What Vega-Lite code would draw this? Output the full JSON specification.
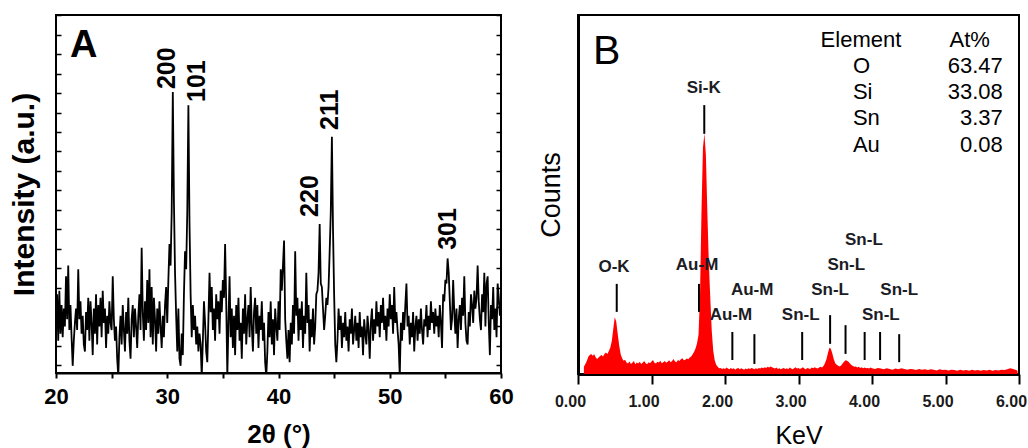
{
  "$schema": "https://vega.github.io/schema/vega-lite/v6.json",
  "padding": {"left": 8, "top": 13, "right": 0, "bottom": 0},
  "background": "white",
  "bounds": "flush",
  "spacing": 77,
  "config": {"font": "Liberation Sans", "view": {"stroke": "black", "strokeWidth": 2}},
  "datasets": {
    "xrd": [
      {"theta":20.0,"intensity":16},{"theta":20.1,"intensity":22},{"theta":20.2,"intensity":9},{"theta":20.3,"intensity":23},{"theta":20.4,"intensity":11},{"theta":20.5,"intensity":19},{"theta":20.6,"intensity":10},{"theta":20.7,"intensity":18},{"theta":20.8,"intensity":13},{"theta":20.9,"intensity":27},
      {"theta":21.0,"intensity":15},{"theta":21.1,"intensity":30},{"theta":21.2,"intensity":12},{"theta":21.3,"intensity":19},{"theta":21.4,"intensity":10},{"theta":21.5,"intensity":2},{"theta":21.6,"intensity":9},{"theta":21.7,"intensity":14},{"theta":21.8,"intensity":18},{"theta":21.9,"intensity":12},
      {"theta":22.0,"intensity":29},{"theta":22.1,"intensity":15},{"theta":22.2,"intensity":20},{"theta":22.3,"intensity":11},{"theta":22.4,"intensity":16},{"theta":22.5,"intensity":8},{"theta":22.6,"intensity":6},{"theta":22.7,"intensity":17},{"theta":22.8,"intensity":12},{"theta":22.9,"intensity":21},
      {"theta":23.0,"intensity":9},{"theta":23.1,"intensity":20},{"theta":23.2,"intensity":14},{"theta":23.3,"intensity":5},{"theta":23.4,"intensity":18},{"theta":23.5,"intensity":11},{"theta":23.6,"intensity":22},{"theta":23.7,"intensity":8},{"theta":23.8,"intensity":19},{"theta":23.9,"intensity":13},
      {"theta":24.0,"intensity":21},{"theta":24.1,"intensity":10},{"theta":24.2,"intensity":23},{"theta":24.3,"intensity":14},{"theta":24.4,"intensity":18},{"theta":24.5,"intensity":7},{"theta":24.6,"intensity":16},{"theta":24.7,"intensity":11},{"theta":24.8,"intensity":20},{"theta":24.9,"intensity":14},
      {"theta":25.0,"intensity":12},{"theta":25.1,"intensity":27},{"theta":25.2,"intensity":15},{"theta":25.3,"intensity":9},{"theta":25.4,"intensity":13},{"theta":25.5,"intensity":4},{"theta":25.6,"intensity":-1},{"theta":25.7,"intensity":10},{"theta":25.8,"intensity":16},{"theta":25.9,"intensity":8},
      {"theta":26.0,"intensity":19},{"theta":26.1,"intensity":12},{"theta":26.2,"intensity":6},{"theta":26.3,"intensity":17},{"theta":26.4,"intensity":11},{"theta":26.5,"intensity":21},{"theta":26.6,"intensity":9},{"theta":26.7,"intensity":4},{"theta":26.8,"intensity":15},{"theta":26.9,"intensity":19},
      {"theta":27.0,"intensity":10},{"theta":27.1,"intensity":18},{"theta":27.2,"intensity":13},{"theta":27.3,"intensity":7},{"theta":27.4,"intensity":16},{"theta":27.5,"intensity":22},{"theta":27.6,"intensity":12},{"theta":27.7,"intensity":35},{"theta":27.8,"intensity":17},{"theta":27.9,"intensity":9},
      {"theta":28.0,"intensity":20},{"theta":28.1,"intensity":12},{"theta":28.2,"intensity":26},{"theta":28.3,"intensity":14},{"theta":28.4,"intensity":29},{"theta":28.5,"intensity":10},{"theta":28.6,"intensity":24},{"theta":28.7,"intensity":8},{"theta":28.8,"intensity":21},{"theta":28.9,"intensity":15},
      {"theta":29.0,"intensity":6},{"theta":29.1,"intensity":18},{"theta":29.2,"intensity":11},{"theta":29.3,"intensity":20},{"theta":29.4,"intensity":13},{"theta":29.5,"intensity":7},{"theta":29.6,"intensity":16},{"theta":29.7,"intensity":10},{"theta":29.8,"intensity":19},{"theta":29.9,"intensity":24},
      {"theta":30.0,"intensity":14},{"theta":30.1,"intensity":26},{"theta":30.2,"intensity":36},{"theta":30.3,"intensity":30},{"theta":30.4,"intensity":45},{"theta":30.5,"intensity":78.5},{"theta":30.6,"intensity":48},{"theta":30.7,"intensity":28},{"theta":30.8,"intensity":16},{"theta":30.9,"intensity":6},
      {"theta":31.0,"intensity":18},{"theta":31.1,"intensity":4},{"theta":31.2,"intensity":2},{"theta":31.3,"intensity":11},{"theta":31.4,"intensity":5},{"theta":31.5,"intensity":22},{"theta":31.6,"intensity":34},{"theta":31.7,"intensity":29},{"theta":31.8,"intensity":45},{"theta":31.9,"intensity":74.8},
      {"theta":32.0,"intensity":42},{"theta":32.1,"intensity":22},{"theta":32.2,"intensity":10},{"theta":32.3,"intensity":19},{"theta":32.4,"intensity":12},{"theta":32.5,"intensity":16},{"theta":32.6,"intensity":8},{"theta":32.7,"intensity":13},{"theta":32.8,"intensity":6},{"theta":32.9,"intensity":11},
      {"theta":33.0,"intensity":8},{"theta":33.1,"intensity":-1},{"theta":33.2,"intensity":9},{"theta":33.3,"intensity":20},{"theta":33.4,"intensity":14},{"theta":33.5,"intensity":6},{"theta":33.6,"intensity":3},{"theta":33.7,"intensity":15},{"theta":33.8,"intensity":28},{"theta":33.9,"intensity":17},
      {"theta":34.0,"intensity":24},{"theta":34.1,"intensity":12},{"theta":34.2,"intensity":18},{"theta":34.3,"intensity":9},{"theta":34.4,"intensity":22},{"theta":34.5,"intensity":15},{"theta":34.6,"intensity":20},{"theta":34.7,"intensity":11},{"theta":34.8,"intensity":23},{"theta":34.9,"intensity":17},
      {"theta":35.0,"intensity":26},{"theta":35.1,"intensity":21},{"theta":35.2,"intensity":36},{"theta":35.3,"intensity":20},{"theta":35.4,"intensity":-1},{"theta":35.5,"intensity":14},{"theta":35.6,"intensity":27},{"theta":35.7,"intensity":10},{"theta":35.8,"intensity":18},{"theta":35.9,"intensity":7},
      {"theta":36.0,"intensity":16},{"theta":36.1,"intensity":5},{"theta":36.2,"intensity":19},{"theta":36.3,"intensity":12},{"theta":36.4,"intensity":21},{"theta":36.5,"intensity":9},{"theta":36.6,"intensity":14},{"theta":36.7,"intensity":4},{"theta":36.8,"intensity":18},{"theta":36.9,"intensity":11},
      {"theta":37.0,"intensity":22},{"theta":37.1,"intensity":8},{"theta":37.2,"intensity":15},{"theta":37.3,"intensity":19},{"theta":37.4,"intensity":10},{"theta":37.5,"intensity":24},{"theta":37.6,"intensity":13},{"theta":37.7,"intensity":6},{"theta":37.8,"intensity":17},{"theta":37.9,"intensity":21},
      {"theta":38.0,"intensity":11},{"theta":38.1,"intensity":19},{"theta":38.2,"intensity":7},{"theta":38.3,"intensity":16},{"theta":38.4,"intensity":12},{"theta":38.5,"intensity":20},{"theta":38.6,"intensity":9},{"theta":38.7,"intensity":14},{"theta":38.8,"intensity":3},{"theta":38.9,"intensity":-1},
      {"theta":39.0,"intensity":6},{"theta":39.1,"intensity":17},{"theta":39.2,"intensity":10},{"theta":39.3,"intensity":20},{"theta":39.4,"intensity":8},{"theta":39.5,"intensity":15},{"theta":39.6,"intensity":5},{"theta":39.7,"intensity":18},{"theta":39.8,"intensity":13},{"theta":39.9,"intensity":9},
      {"theta":40.0,"intensity":20},{"theta":40.1,"intensity":12},{"theta":40.2,"intensity":29},{"theta":40.3,"intensity":23},{"theta":40.4,"intensity":30},{"theta":40.5,"intensity":37},{"theta":40.6,"intensity":15},{"theta":40.7,"intensity":9},{"theta":40.8,"intensity":4},{"theta":40.9,"intensity":12},
      {"theta":41.0,"intensity":3},{"theta":41.1,"intensity":14},{"theta":41.2,"intensity":8},{"theta":41.3,"intensity":19},{"theta":41.4,"intensity":11},{"theta":41.5,"intensity":34},{"theta":41.6,"intensity":16},{"theta":41.7,"intensity":21},{"theta":41.8,"intensity":9},{"theta":41.9,"intensity":18},
      {"theta":42.0,"intensity":12},{"theta":42.1,"intensity":20},{"theta":42.2,"intensity":7},{"theta":42.3,"intensity":16},{"theta":42.4,"intensity":11},{"theta":42.5,"intensity":28},{"theta":42.6,"intensity":14},{"theta":42.7,"intensity":19},{"theta":42.8,"intensity":6},{"theta":42.9,"intensity":15},
      {"theta":43.0,"intensity":10},{"theta":43.1,"intensity":18},{"theta":43.2,"intensity":8},{"theta":43.3,"intensity":13},{"theta":43.4,"intensity":22},{"theta":43.5,"intensity":23},{"theta":43.6,"intensity":28},{"theta":43.7,"intensity":41.6},{"theta":43.8,"intensity":25},{"theta":43.9,"intensity":24},
      {"theta":44.0,"intensity":18},{"theta":44.1,"intensity":12},{"theta":44.2,"intensity":16},{"theta":44.3,"intensity":21},{"theta":44.4,"intensity":19},{"theta":44.5,"intensity":24},{"theta":44.6,"intensity":34},{"theta":44.7,"intensity":45},{"theta":44.8,"intensity":66},{"theta":44.9,"intensity":40},
      {"theta":45.0,"intensity":22},{"theta":45.1,"intensity":8},{"theta":45.2,"intensity":3},{"theta":45.3,"intensity":9},{"theta":45.4,"intensity":18},{"theta":45.5,"intensity":12},{"theta":45.6,"intensity":16},{"theta":45.7,"intensity":7},{"theta":45.8,"intensity":14},{"theta":45.9,"intensity":10},
      {"theta":46.0,"intensity":17},{"theta":46.1,"intensity":9},{"theta":46.2,"intensity":13},{"theta":46.3,"intensity":6},{"theta":46.4,"intensity":15},{"theta":46.5,"intensity":11},{"theta":46.6,"intensity":18},{"theta":46.7,"intensity":8},{"theta":46.8,"intensity":12},{"theta":46.9,"intensity":16},
      {"theta":47.0,"intensity":9},{"theta":47.1,"intensity":14},{"theta":47.2,"intensity":7},{"theta":47.3,"intensity":17},{"theta":47.4,"intensity":10},{"theta":47.5,"intensity":13},{"theta":47.6,"intensity":5},{"theta":47.7,"intensity":15},{"theta":47.8,"intensity":11},{"theta":47.9,"intensity":8},
      {"theta":48.0,"intensity":16},{"theta":48.1,"intensity":12},{"theta":48.2,"intensity":4},{"theta":48.3,"intensity":14},{"theta":48.4,"intensity":18},{"theta":48.5,"intensity":9},{"theta":48.6,"intensity":15},{"theta":48.7,"intensity":11},{"theta":48.8,"intensity":20},{"theta":48.9,"intensity":13},
      {"theta":49.0,"intensity":17},{"theta":49.1,"intensity":10},{"theta":49.2,"intensity":19},{"theta":49.3,"intensity":14},{"theta":49.4,"intensity":21},{"theta":49.5,"intensity":12},{"theta":49.6,"intensity":16},{"theta":49.7,"intensity":9},{"theta":49.8,"intensity":18},{"theta":49.9,"intensity":13},
      {"theta":50.0,"intensity":22},{"theta":50.1,"intensity":15},{"theta":50.2,"intensity":19},{"theta":50.3,"intensity":11},{"theta":50.4,"intensity":24},{"theta":50.5,"intensity":14},{"theta":50.6,"intensity":17},{"theta":50.7,"intensity":12},{"theta":50.8,"intensity":8},{"theta":50.9,"intensity":-1},
      {"theta":51.0,"intensity":14},{"theta":51.1,"intensity":9},{"theta":51.2,"intensity":17},{"theta":51.3,"intensity":12},{"theta":51.4,"intensity":19},{"theta":51.5,"intensity":25},{"theta":51.6,"intensity":13},{"theta":51.7,"intensity":16},{"theta":51.8,"intensity":8},{"theta":51.9,"intensity":14},
      {"theta":52.0,"intensity":10},{"theta":52.1,"intensity":17},{"theta":52.2,"intensity":6},{"theta":52.3,"intensity":13},{"theta":52.4,"intensity":16},{"theta":52.5,"intensity":9},{"theta":52.6,"intensity":15},{"theta":52.7,"intensity":11},{"theta":52.8,"intensity":18},{"theta":52.9,"intensity":12},
      {"theta":53.0,"intensity":8},{"theta":53.1,"intensity":15},{"theta":53.2,"intensity":13},{"theta":53.3,"intensity":19},{"theta":53.4,"intensity":10},{"theta":53.5,"intensity":16},{"theta":53.6,"intensity":12},{"theta":53.7,"intensity":20},{"theta":53.8,"intensity":14},{"theta":53.9,"intensity":17},
      {"theta":54.0,"intensity":11},{"theta":54.1,"intensity":18},{"theta":54.2,"intensity":13},{"theta":54.3,"intensity":16},{"theta":54.4,"intensity":10},{"theta":54.5,"intensity":19},{"theta":54.6,"intensity":14},{"theta":54.7,"intensity":7},{"theta":54.8,"intensity":22},{"theta":54.9,"intensity":20},
      {"theta":55.0,"intensity":26},{"theta":55.1,"intensity":25},{"theta":55.2,"intensity":32},{"theta":55.3,"intensity":28},{"theta":55.4,"intensity":20},{"theta":55.5,"intensity":12},{"theta":55.6,"intensity":15},{"theta":55.7,"intensity":26},{"theta":55.8,"intensity":17},{"theta":55.9,"intensity":11},
      {"theta":56.0,"intensity":18},{"theta":56.1,"intensity":7},{"theta":56.2,"intensity":15},{"theta":56.3,"intensity":19},{"theta":56.4,"intensity":12},{"theta":56.5,"intensity":21},{"theta":56.6,"intensity":16},{"theta":56.7,"intensity":27},{"theta":56.8,"intensity":14},{"theta":56.9,"intensity":9},
      {"theta":57.0,"intensity":8},{"theta":57.1,"intensity":17},{"theta":57.2,"intensity":13},{"theta":57.3,"intensity":22},{"theta":57.4,"intensity":19},{"theta":57.5,"intensity":14},{"theta":57.6,"intensity":23},{"theta":57.7,"intensity":18},{"theta":57.8,"intensity":21},{"theta":57.9,"intensity":30},
      {"theta":58.0,"intensity":20},{"theta":58.1,"intensity":15},{"theta":58.2,"intensity":12},{"theta":58.3,"intensity":22},{"theta":58.4,"intensity":17},{"theta":58.5,"intensity":28},{"theta":58.6,"intensity":13},{"theta":58.7,"intensity":25},{"theta":58.8,"intensity":27},{"theta":58.9,"intensity":14},
      {"theta":59.0,"intensity":5},{"theta":59.1,"intensity":19},{"theta":59.2,"intensity":15},{"theta":59.3,"intensity":24},{"theta":59.4,"intensity":12},{"theta":59.5,"intensity":18},{"theta":59.6,"intensity":10},{"theta":59.7,"intensity":25},{"theta":59.8,"intensity":21},{"theta":59.9,"intensity":16},
      {"theta":60.0,"intensity":20}
    ],
    "xrdLabels": [
      {"label":"200","theta":30.02,"intensity":79.3},
      {"label":"101","theta":32.63,"intensity":75.7},
      {"label":"220","theta":42.83,"intensity":43.6},
      {"label":"211","theta":44.63,"intensity":67.9},
      {"label":"301","theta":55.24,"intensity":34.4}
    ],
    "eds": [
      {"kev":0.08,"counts":2.0},{"kev":0.10,"counts":2.8},{"kev":0.12,"counts":3.6},{"kev":0.14,"counts":4.8},{"kev":0.16,"counts":5.3},{"kev":0.18,"counts":5.6},{"kev":0.20,"counts":5.1},{"kev":0.22,"counts":5.5},{"kev":0.24,"counts":4.7},{"kev":0.26,"counts":4.2},
      {"kev":0.28,"counts":4.6},{"kev":0.30,"counts":5.0},{"kev":0.32,"counts":5.3},{"kev":0.34,"counts":4.9},{"kev":0.36,"counts":5.6},{"kev":0.38,"counts":6.0},{"kev":0.40,"counts":5.6},{"kev":0.42,"counts":6.4},{"kev":0.44,"counts":7.4},{"kev":0.46,"counts":9.2},
      {"kev":0.48,"counts":12.6},{"kev":0.50,"counts":15.8},{"kev":0.52,"counts":14.6},{"kev":0.54,"counts":11.2},{"kev":0.56,"counts":8.0},{"kev":0.58,"counts":5.6},{"kev":0.60,"counts":4.4},{"kev":0.62,"counts":3.7},{"kev":0.64,"counts":4.0},{"kev":0.66,"counts":3.2},
      {"kev":0.68,"counts":2.9},{"kev":0.70,"counts":3.5},{"kev":0.72,"counts":2.8},{"kev":0.74,"counts":3.1},{"kev":0.76,"counts":3.6},{"kev":0.78,"counts":2.7},{"kev":0.80,"counts":3.2},{"kev":0.82,"counts":2.9},{"kev":0.84,"counts":3.4},{"kev":0.86,"counts":2.8},
      {"kev":0.88,"counts":3.1},{"kev":0.90,"counts":3.6},{"kev":0.92,"counts":3.0},{"kev":0.94,"counts":2.7},{"kev":0.96,"counts":3.3},{"kev":0.98,"counts":3.0},{"kev":1.00,"counts":3.5},{"kev":1.02,"counts":3.9},{"kev":1.04,"counts":3.1},{"kev":1.06,"counts":2.9},
      {"kev":1.08,"counts":3.4},{"kev":1.10,"counts":3.2},{"kev":1.12,"counts":3.7},{"kev":1.14,"counts":3.0},{"kev":1.16,"counts":3.3},{"kev":1.18,"counts":3.6},{"kev":1.20,"counts":3.1},{"kev":1.22,"counts":3.4},{"kev":1.24,"counts":3.8},{"kev":1.26,"counts":3.3},
      {"kev":1.28,"counts":3.6},{"kev":1.30,"counts":4.2},{"kev":1.32,"counts":3.5},{"kev":1.34,"counts":3.3},{"kev":1.36,"counts":3.9},{"kev":1.38,"counts":3.6},{"kev":1.40,"counts":4.1},{"kev":1.42,"counts":4.4},{"kev":1.44,"counts":3.8},{"kev":1.46,"counts":4.0},
      {"kev":1.48,"counts":4.3},{"kev":1.50,"counts":4.1},{"kev":1.52,"counts":4.6},{"kev":1.54,"counts":4.9},{"kev":1.56,"counts":5.5},{"kev":1.58,"counts":6.2},{"kev":1.60,"counts":7.2},{"kev":1.62,"counts":8.6},{"kev":1.64,"counts":11},{"kev":1.66,"counts":22},
      {"kev":1.68,"counts":45},{"kev":1.70,"counts":63},{"kev":1.72,"counts":67},{"kev":1.74,"counts":61},{"kev":1.76,"counts":45},{"kev":1.78,"counts":31},{"kev":1.80,"counts":21},{"kev":1.82,"counts":12},{"kev":1.84,"counts":6.5},{"kev":1.86,"counts":3.8},
      {"kev":1.88,"counts":2.6},{"kev":1.90,"counts":2.0},{"kev":1.92,"counts":1.6},{"kev":1.94,"counts":1.7},{"kev":1.96,"counts":1.4},{"kev":1.98,"counts":1.6},{"kev":2.00,"counts":1.4},{"kev":2.02,"counts":1.8},{"kev":2.04,"counts":1.5},{"kev":2.06,"counts":1.3},
      {"kev":2.08,"counts":1.7},{"kev":2.10,"counts":1.4},{"kev":2.12,"counts":1.6},{"kev":2.14,"counts":1.2},{"kev":2.16,"counts":1.5},{"kev":2.18,"counts":1.7},{"kev":2.20,"counts":1.3},{"kev":2.22,"counts":1.6},{"kev":2.24,"counts":1.4},{"kev":2.26,"counts":1.2},
      {"kev":2.28,"counts":1.5},{"kev":2.30,"counts":1.3},{"kev":2.32,"counts":1.6},{"kev":2.34,"counts":1.4},{"kev":2.36,"counts":1.7},{"kev":2.38,"counts":1.5},{"kev":2.40,"counts":1.3},{"kev":2.42,"counts":1.6},{"kev":2.44,"counts":1.4},{"kev":2.46,"counts":1.7},
      {"kev":2.48,"counts":1.5},{"kev":2.50,"counts":1.8},{"kev":2.52,"counts":1.6},{"kev":2.54,"counts":1.9},{"kev":2.56,"counts":1.7},{"kev":2.58,"counts":2.0},{"kev":2.60,"counts":1.8},{"kev":2.62,"counts":2.1},{"kev":2.64,"counts":1.9},{"kev":2.66,"counts":1.7},
      {"kev":2.68,"counts":1.5},{"kev":2.70,"counts":1.8},{"kev":2.72,"counts":1.4},{"kev":2.74,"counts":1.6},{"kev":2.76,"counts":1.3},{"kev":2.78,"counts":1.5},{"kev":2.80,"counts":1.7},{"kev":2.82,"counts":1.4},{"kev":2.84,"counts":1.6},{"kev":2.86,"counts":1.3},
      {"kev":2.88,"counts":1.8},{"kev":2.90,"counts":1.5},{"kev":2.92,"counts":1.3},{"kev":2.94,"counts":1.6},{"kev":2.96,"counts":1.9},{"kev":2.98,"counts":1.5},{"kev":3.00,"counts":1.7},{"kev":3.02,"counts":1.4},{"kev":3.04,"counts":1.6},{"kev":3.06,"counts":1.9},
      {"kev":3.08,"counts":1.5},{"kev":3.10,"counts":1.3},{"kev":3.12,"counts":1.7},{"kev":3.14,"counts":1.5},{"kev":3.16,"counts":1.4},{"kev":3.18,"counts":1.8},{"kev":3.20,"counts":1.6},{"kev":3.22,"counts":1.9},{"kev":3.24,"counts":1.7},{"kev":3.26,"counts":1.5},
      {"kev":3.28,"counts":1.8},{"kev":3.30,"counts":2.0},{"kev":3.32,"counts":1.8},{"kev":3.34,"counts":2.2},{"kev":3.36,"counts":3.0},{"kev":3.38,"counts":4.1},{"kev":3.40,"counts":5.8},{"kev":3.42,"counts":7.3},{"kev":3.44,"counts":7.0},{"kev":3.46,"counts":5.7},
      {"kev":3.48,"counts":4.1},{"kev":3.50,"counts":3.0},{"kev":3.52,"counts":2.6},{"kev":3.54,"counts":2.3},{"kev":3.56,"counts":2.1},{"kev":3.58,"counts":2.4},{"kev":3.60,"counts":2.9},{"kev":3.62,"counts":3.4},{"kev":3.64,"counts":3.8},{"kev":3.66,"counts":3.7},
      {"kev":3.68,"counts":3.4},{"kev":3.70,"counts":2.9},{"kev":3.72,"counts":2.5},{"kev":3.74,"counts":2.2},{"kev":3.76,"counts":2.0},{"kev":3.78,"counts":2.1},{"kev":3.80,"counts":1.8},{"kev":3.82,"counts":2.0},{"kev":3.84,"counts":1.7},{"kev":3.86,"counts":1.9},
      {"kev":3.88,"counts":1.6},{"kev":3.90,"counts":1.8},{"kev":3.92,"counts":1.6},{"kev":3.94,"counts":1.7},{"kev":3.96,"counts":1.5},{"kev":3.98,"counts":1.8},{"kev":4.00,"counts":1.6},{"kev":4.04,"counts":1.4},{"kev":4.08,"counts":1.7},{"kev":4.12,"counts":1.5},
      {"kev":4.16,"counts":1.3},{"kev":4.20,"counts":1.6},{"kev":4.24,"counts":1.4},{"kev":4.28,"counts":1.2},{"kev":4.32,"counts":1.5},{"kev":4.36,"counts":1.3},{"kev":4.40,"counts":1.6},{"kev":4.44,"counts":1.4},{"kev":4.48,"counts":1.2},{"kev":4.52,"counts":1.4},
      {"kev":4.56,"counts":1.3},{"kev":4.60,"counts":1.1},{"kev":4.64,"counts":1.4},{"kev":4.68,"counts":1.2},{"kev":4.72,"counts":1.3},{"kev":4.76,"counts":1.1},{"kev":4.80,"counts":1.3},{"kev":4.84,"counts":1.2},{"kev":4.88,"counts":1.0},{"kev":4.92,"counts":1.3},
      {"kev":4.96,"counts":1.1},{"kev":5.00,"counts":1.2},{"kev":5.04,"counts":1.0},{"kev":5.08,"counts":1.2},{"kev":5.12,"counts":1.1},{"kev":5.16,"counts":0.9},{"kev":5.20,"counts":1.2},{"kev":5.24,"counts":1.0},{"kev":5.28,"counts":1.1},{"kev":5.32,"counts":0.9},
      {"kev":5.36,"counts":1.2},{"kev":5.40,"counts":1.0},{"kev":5.44,"counts":1.1},{"kev":5.48,"counts":0.9},{"kev":5.52,"counts":1.1},{"kev":5.56,"counts":1.0},{"kev":5.60,"counts":1.2},{"kev":5.64,"counts":0.9},{"kev":5.68,"counts":1.1},{"kev":5.72,"counts":1.0},
      {"kev":5.76,"counts":1.2},{"kev":5.80,"counts":1.1},{"kev":5.84,"counts":1.3},{"kev":5.88,"counts":1.6},{"kev":5.92,"counts":1.4},{"kev":5.96,"counts":1.1},{"kev":5.98,"counts":0.9}
    ],
    "edsLines": [
      {"kev":0.527,"low":17.3,"high":25.1},
      {"kev":1.718,"low":66.9,"high":74.9},
      {"kev":1.646,"low":17.3,"high":25.1},
      {"kev":2.10,"low":3.9,"high":11.7},
      {"kev":2.40,"low":2.8,"high":11.1},
      {"kev":3.05,"low":3.9,"high":11.7},
      {"kev":3.43,"low":8.4,"high":16.4},
      {"kev":3.64,"low":5.6,"high":13.6},
      {"kev":3.90,"low":3.9,"high":11.7},
      {"kev":4.11,"low":3.9,"high":11.7},
      {"kev":4.37,"low":3.3,"high":11.1}
    ],
    "edsLabels": [
      {"label":"Si-K","kev":1.71,"counts":78.3},
      {"label":"O-K","kev":0.49,"counts":28.4},
      {"label":"Au-M","kev":1.62,"counts":29.0},
      {"label":"Au-M","kev":2.37,"counts":22.0},
      {"label":"Au-M","kev":2.08,"counts":15.0},
      {"label":"Sn-L","kev":3.03,"counts":15.0},
      {"label":"Sn-L","kev":3.43,"counts":22.0},
      {"label":"Sn-L","kev":3.65,"counts":29.0},
      {"label":"Sn-L","kev":3.89,"counts":35.9},
      {"label":"Sn-L","kev":4.37,"counts":22.0},
      {"label":"Sn-L","kev":4.12,"counts":15.0}
    ],
    "composition": [
      {"element":"O","atPct":"63.47","counts":83.8},
      {"element":"Si","atPct":"33.08","counts":76.6},
      {"element":"Sn","atPct":"3.37","counts":69.4},
      {"element":"Au","atPct":"0.08","counts":61.8}
    ]
  },
  "hconcat": [
    {
      "width": 445,
      "height": 358,
      "layer": [
        {
          "data": {"name": "xrd"},
          "mark": {"type": "line", "color": "black", "strokeWidth": 1.8, "clip": true},
          "encoding": {
            "x": {
              "field": "theta", "type": "quantitative",
              "scale": {"domain": [20, 60], "nice": false},
              "axis": {
                "title": "2θ (°)", "titleFontSize": 26, "titleFontWeight": "bold", "titleColor": "black", "titlePadding": 14,
                "values": [20, 25, 30, 35, 40, 45, 50, 55, 60], "format": "d",
                "labelExpr": "datum.value % 10 === 0 ? datum.label : ''",
                "labelFontSize": 22, "labelFontWeight": "bold", "labelColor": "black", "labelPadding": 8,
                "labelFlush": false, "labelOverlap": false,
                "tickSize": 5, "tickWidth": 2, "tickColor": "black",
                "domainColor": "black", "domainWidth": 2, "grid": false
              }
            },
            "y": {
              "field": "intensity", "type": "quantitative",
              "scale": {"domain": [0, 100], "nice": false},
              "axis": {
                "orient": "left", "title": "Intensity (a.u.)", "titleFontSize": 30, "titleFontWeight": "bold", "titleColor": "black", "titlePadding": 16,
                "labels": false, "tickSize": -5, "tickWidth": 1.5, "tickColor": "black", "domain": false, "grid": false,
                "values": [2.15, 7.58, 13.01, 18.44, 23.87, 29.3, 34.73, 40.16, 45.59, 51.02, 56.45, 61.88, 67.31, 72.74, 78.17, 83.6, 89.03, 94.46, 99.89]
              }
            }
          }
        },
        {
          "data": {"name": "xrdLabels"},
          "mark": {"type": "text", "angle": 270, "align": "left", "baseline": "middle", "fontSize": 25, "fontWeight": "bold", "color": "black"},
          "encoding": {
            "x": {"field": "theta", "type": "quantitative"},
            "y": {
              "field": "intensity", "type": "quantitative",
              "axis": {
                "orient": "right", "title": null, "labels": false, "tickSize": -5, "tickWidth": 1.5, "tickColor": "black", "domain": false, "grid": false,
                "values": [2.15, 7.58, 13.01, 18.44, 23.87, 29.3, 34.73, 40.16, 45.59, 51.02, 56.45, 61.88, 67.31, 72.74, 78.17, 83.6, 89.03, 94.46, 99.89]
              }
            },
            "text": {"field": "label", "type": "nominal"}
          }
        },
        {
          "data": {"values": [{"panel": "A", "theta": 21.26, "intensity": 88.3}]},
          "mark": {"type": "text", "align": "left", "baseline": "alphabetic", "fontSize": 38, "fontWeight": "bold", "color": "black"},
          "encoding": {
            "x": {"field": "theta", "type": "quantitative"},
            "y": {"field": "intensity", "type": "quantitative", "axis": null},
            "text": {"field": "panel", "type": "nominal"}
          }
        }
      ],
      "resolve": {"axis": {"y": "independent"}}
    },
    {
      "width": 441,
      "height": 359,
      "layer": [
        {
          "data": {"name": "eds"},
          "mark": {"type": "area", "color": "#ff0000", "opacity": 1},
          "encoding": {
            "x": {
              "field": "kev", "type": "quantitative",
              "scale": {"domain": [0, 6], "nice": false},
              "axis": {
                "title": "KeV", "titleFontSize": 25, "titleFontWeight": "normal", "titleColor": "black", "titlePadding": 14,
                "values": [0, 1, 2, 3, 4, 5, 6], "format": ".2f",
                "labelFontSize": 16, "labelFontWeight": "bold", "labelColor": "#1a1a1a", "labelPadding": 9, "labelOffset": -8,
                "labelFlush": false, "labelOverlap": false,
                "tickSize": 10, "tickWidth": 2, "tickColor": "black",
                "domainColor": "black", "domainWidth": 3, "grid": false
              }
            },
            "y": {
              "field": "counts", "type": "quantitative", "stack": null,
              "scale": {"domain": [0, 100], "nice": false},
              "axis": {
                "title": "Counts", "titleFontSize": 27, "titleFontWeight": "normal", "titleColor": "black", "titlePadding": 13,
                "labels": false, "ticks": false, "domainColor": "black", "domainWidth": 3, "grid": false
              }
            }
          }
        },
        {
          "data": {"name": "edsLines"},
          "mark": {"type": "rule", "color": "black", "strokeWidth": 2},
          "encoding": {
            "x": {"field": "kev", "type": "quantitative"},
            "y": {"field": "low", "type": "quantitative"},
            "y2": {"field": "high"}
          }
        },
        {
          "data": {"name": "edsLabels"},
          "mark": {"type": "text", "align": "center", "baseline": "alphabetic", "fontSize": 17, "fontWeight": "bold", "color": "#1c1c24"},
          "encoding": {
            "x": {"field": "kev", "type": "quantitative"},
            "y": {"field": "counts", "type": "quantitative"},
            "text": {"field": "label", "type": "nominal"}
          }
        },
        {
          "data": {"values": [{"head": "Element", "kev": 3.85, "counts": 91.1}, {"head": "At%", "kev": 5.33, "counts": 91.1}]},
          "mark": {"type": "text", "align": "center", "baseline": "alphabetic", "fontSize": 22, "color": "black"},
          "encoding": {
            "x": {"field": "kev", "type": "quantitative"},
            "y": {"field": "counts", "type": "quantitative"},
            "text": {"field": "head", "type": "nominal"}
          }
        },
        {
          "data": {"name": "composition"},
          "mark": {"type": "text", "align": "left", "baseline": "alphabetic", "fontSize": 22, "color": "black"},
          "encoding": {
            "x": {"datum": 3.74, "type": "quantitative"},
            "y": {"field": "counts", "type": "quantitative"},
            "text": {"field": "element", "type": "nominal"}
          }
        },
        {
          "data": {"name": "composition"},
          "mark": {"type": "text", "align": "right", "baseline": "alphabetic", "fontSize": 22, "color": "black"},
          "encoding": {
            "x": {"datum": 5.78, "type": "quantitative"},
            "y": {"field": "counts", "type": "quantitative"},
            "text": {"field": "atPct", "type": "nominal"}
          }
        },
        {
          "data": {"values": [{"panel": "B", "kev": 0.204, "counts": 86.4}]},
          "mark": {"type": "text", "align": "left", "baseline": "alphabetic", "fontSize": 41, "color": "black"},
          "encoding": {
            "x": {"field": "kev", "type": "quantitative"},
            "y": {"field": "counts", "type": "quantitative"},
            "text": {"field": "panel", "type": "nominal"}
          }
        }
      ]
    }
  ]
}
